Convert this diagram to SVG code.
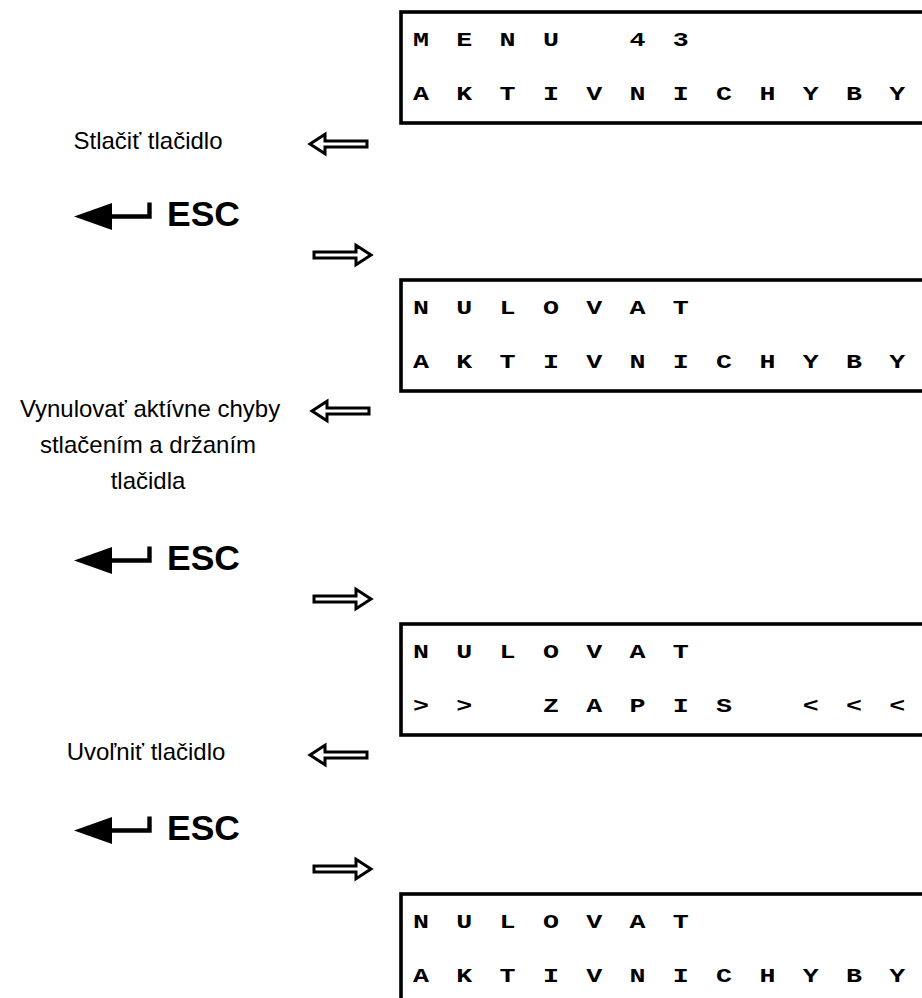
<svg xmlns="http://www.w3.org/2000/svg" width="922" height="998" viewBox="0 0 922 998">
<style>
.lcdbox{fill:none;stroke:#000;stroke-width:3.6}
.lcd{font-family:"Liberation Mono","Courier New",monospace;font-weight:bold;font-size:20.5px;fill:#000;text-anchor:middle}
.lbl{font-family:"Liberation Sans",Arial,sans-serif;font-size:24px;fill:#000;text-anchor:middle}
.esc{font-family:"Liberation Sans",Arial,sans-serif;font-weight:bold;font-size:35.5px;fill:#000}
.hollow{fill:#fff;stroke:#000;stroke-width:3;stroke-linejoin:miter}
.enter{fill:none;stroke:#000;stroke-width:4.4;stroke-linejoin:miter}
</style>
<defs>
<path id="larr" class="hollow" d="M0,0 L15,-9.8 L15,-3 L57,-3 L57,3 L15,3 L15,9.8 Z"/>
<path id="rarr" class="hollow" d="M0,0 L-15,-9.8 L-15,-3 L-57,-3 L-57,3 L-15,3 L-15,9.8 Z"/>
<g id="enterkey">
<path d="M74,0 L112,-13.5 L112,13.5 Z" fill="#000"/>
<path class="enter" d="M108,0 L149.5,0 L149.5,-14"/>
</g>
</defs>

<g id="lcd1">
<rect class="lcdbox" x="401" y="12" width="560" height="111"/>
<g transform="scale(1.3,1)">
<text class="lcd" x="323.85 357.15 390.46 423.77 457.08 490.38 523.69 557.00" y="46">MENU  43</text>
<text class="lcd" x="323.85 357.15 390.46 423.77 457.08 490.38 523.69 557.00 590.31 623.62 656.92 690.23" y="100">AKTIVNICHYBY</text>
</g>
</g>

<g id="label1">
<text class="lbl" x="148" y="149">Stlačiť tlačidlo</text>
</g>

<g id="esc1">
<use href="#enterkey" transform="translate(0,216.5)"/>
<text class="esc" x="167" y="226">ESC</text>
</g>

<g id="lcd2">
<rect class="lcdbox" x="401" y="280" width="560" height="111"/>
<g transform="scale(1.3,1)">
<text class="lcd" x="323.85 357.15 390.46 423.77 457.08 490.38 523.69" y="314">NULOVAT</text>
<text class="lcd" x="323.85 357.15 390.46 423.77 457.08 490.38 523.69 557.00 590.31 623.62 656.92 690.23" y="368">AKTIVNICHYBY</text>
</g>
</g>

<g id="label2">
<text class="lbl" x="150" y="417">Vynulovať aktívne chyby</text>
<text class="lbl" x="148" y="453">stlačením a držaním</text>
<text class="lbl" x="148" y="489">tlačidla</text>
</g>

<g id="esc2">
<use href="#enterkey" transform="translate(0,560.5)"/>
<text class="esc" x="167" y="570">ESC</text>
</g>

<g id="lcd3">
<rect class="lcdbox" x="401" y="624" width="560" height="111"/>
<g transform="scale(1.3,1)">
<text class="lcd" x="323.85 357.15 390.46 423.77 457.08 490.38 523.69" y="658">NULOVAT</text>
<text class="lcd" x="323.85 357.15 390.46 423.77 457.08 490.38 523.69 557.00 590.31 623.62 656.92 690.23" y="712">&gt;&gt; ZAPIS &lt;&lt;&lt;</text>
</g>
</g>

<g id="label3">
<text class="lbl" x="146" y="760">Uvoľniť tlačidlo</text>
</g>

<g id="esc3">
<use href="#enterkey" transform="translate(0,830.5)"/>
<text class="esc" x="167" y="840">ESC</text>
</g>

<g id="lcd4">
<rect class="lcdbox" x="401" y="894" width="560" height="140"/>
<g transform="scale(1.3,1)">
<text class="lcd" x="323.85 357.15 390.46 423.77 457.08 490.38 523.69" y="928">NULOVAT</text>
<text class="lcd" x="323.85 357.15 390.46 423.77 457.08 490.38 523.69 557.00 590.31 623.62 656.92 690.23" y="982">AKTIVNICHYBY</text>
</g>
</g>

<g id="connectors">
<use href="#larr" x="310" y="144"/>
<use href="#rarr" x="371" y="255"/>
<use href="#larr" x="312" y="411"/>
<use href="#rarr" x="371" y="599"/>
<use href="#larr" x="310" y="755"/>
<use href="#rarr" x="371" y="869"/>
</g>
</svg>
